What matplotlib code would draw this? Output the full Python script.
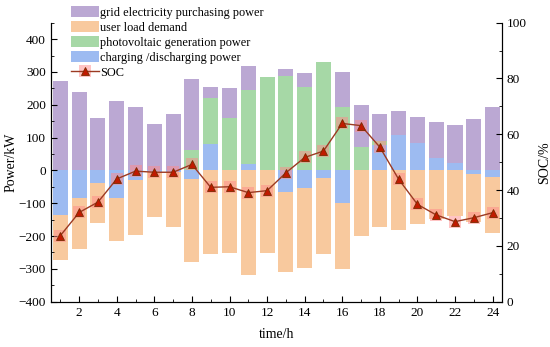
"""Hourly power balance of the microgrid (stacked bars) with battery SOC."""

import numpy as np
import matplotlib.pyplot as plt
from matplotlib.ticker import MultipleLocator

hours   = np.arange(1, 25)
grid    = [273, 240, 159, 212, 194, 140, 172, 215, 33, 91, 73, 0,
           21, 45, 0, 109, 127, 82, 73, 81, 111, 116, 156, 194]
load    = [137, 155, 122, 131, 167, 136, 166, 251, 256, 251, 319, 253,
           244, 243, 233, 201, 199, 171, 182, 163, 147, 139, 144, 173]
pv      = [0, 0, 0, 0, 0, 0, 0, 62, 142, 159, 225, 284,
           288, 253, 331, 192, 72, 13, 0, 0, 0, 0, 0, 0]
battery = [-136, -85, -39, -83, -29, -5, -5, -27, 80, 0, 20, 0,
           -65, -55, -22, -100, 0, 77, 108, 83, 37, 22, -12, -19]
soc     = [23.7, 32.0, 35.7, 44.0, 46.8, 46.4, 46.4, 49.2, 41.0, 41.2, 39.1, 39.8,
           46.2, 51.7, 54.0, 63.9, 63.1, 55.4, 43.9, 34.9, 31.1, 28.7, 30.1, 31.9]

c_grid, c_load, c_pv, c_bat = '#bba8d3', '#f8c99e', '#a6d8a6', '#9dbbf1'

plt.rcParams['font.family'] = 'Liberation Serif'
plt.rcParams['font.size'] = 9.5

fig = plt.figure(figsize=(5.5, 3.47), dpi=100)
ax = fig.add_axes([0.0927, 0.1305, 0.82, 0.8041])

bat = np.array(battery)
pos_bat = np.clip(bat, 0, None)
neg_bat = np.clip(bat, None, 0)
pv_arr = np.array(pv)

w = 0.8
ax.bar(hours, neg_bat, w, color=c_bat, lw=0)
b_load = ax.bar(hours, -np.array(load), w, bottom=neg_bat, color=c_load, lw=0)
b_bat = ax.bar(hours, pos_bat, w, color=c_bat, lw=0)
b_pv = ax.bar(hours, pv_arr, w, bottom=pos_bat, color=c_pv, lw=0)
b_grid = ax.bar(hours, grid, w, bottom=pos_bat + pv_arr, color=c_grid, lw=0)

ax.set_xlim(0.5, 24.5)
ax.set_ylim(-400, 450)
ax.set_yticks(np.arange(-400, 401, 100))
ax.yaxis.set_minor_locator(MultipleLocator(50))
ax.set_xticks(np.arange(2, 25, 2))
ax.xaxis.set_minor_locator(MultipleLocator(1))
ax.spines['top'].set_visible(False)
ax.tick_params(which='both', direction='in', top=False)
ax.tick_params(which='major', length=4)
ax.tick_params(which='minor', length=2.5)
ax.set_xlabel('time/h', fontsize=10, labelpad=7)
ax.set_ylabel('Power/kW', fontsize=10, labelpad=1)

ax2 = ax.twinx()
ax2.set_ylim(0, 100)
ax2.set_yticks(np.arange(0, 101, 20))
ax2.yaxis.set_minor_locator(MultipleLocator(10))
ax2.spines['top'].set_visible(False)
ax2.tick_params(which='both', direction='in')
ax2.tick_params(which='major', length=4)
ax2.tick_params(which='minor', length=2.5)
ax2.set_ylabel('SOC/%', fontsize=10, labelpad=8)

halo, = ax2.plot(hours, soc, 's', ms=9, color='#ff8a8a', alpha=0.5, mew=0)
line, = ax2.plot(hours, soc, '-', color='#9c3a22', lw=1, marker='^', ms=6,
                 mfc='#c01a00', mec='#7a2a00', mew=0.6)

fig.legend([b_grid, b_load, b_pv, b_bat, (halo, line)],
           ['grid electricity purchasing power', 'user load demand',
            'photovoltaic generation power', 'charging /discharging power', 'SOC'],
           loc='upper left', bbox_to_anchor=(71 / 550, 1 - 6 / 347),
           frameon=False, fontsize=8.8, handlelength=2.3, handleheight=1.0,
           handletextpad=0.1, labelspacing=0.2, borderpad=0, borderaxespad=0)

fig.savefig('out.png', dpi=100)
